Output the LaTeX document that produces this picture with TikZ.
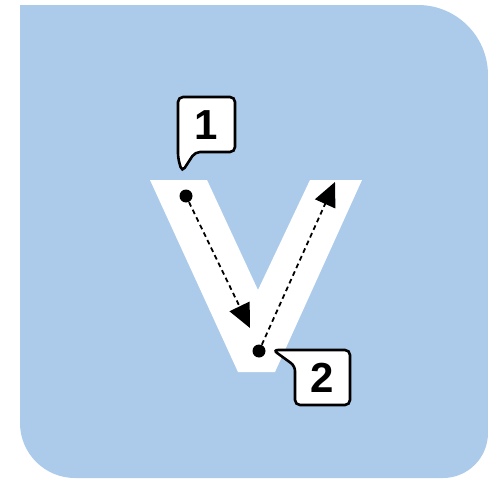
\documentclass[tikz,border=0pt]{standalone}
\usepackage{fontspec}
\usepackage{xcolor}
\newfontfamily\tagfont{Liberation Sans}
\definecolor{tileblue}{RGB}{172,203,235}
\usetikzlibrary{%
  arrows.meta,
  positioning,calc
}
\tikzset{
dot/.style = {circle, fill=black, inner sep=0pt, minimum size=6.5pt},
flow/.style = {line width=0.9pt, dash pattern=on 2.4pt off 1.8pt,
               -{Triangle[length=12pt,width=11pt]}},
tagbox/.style = {draw=black, fill=white, line width=1.3pt, rounded corners=2.5pt},
tagtext/.style = {font=\tagfont\bfseries\fontsize{21}{21}\selectfont, inner sep=0pt}
}

\begin{document}
\begin{tikzpicture}[x=0.5pt,y=-0.5pt]
  \useasboundingbox (0,0) rectangle (488,482);
  % tile
  \fill[tileblue] (20,5) -- (418,5) arc[start angle=-90, end angle=0, radius=70]
    -- (488,433) arc[start angle=0, end angle=90, radius=45]
    -- (75,478) arc[start angle=90, end angle=180, radius=55] -- cycle;
  % letter V
  \fill[white] (150,180) -- (207,180) -- (258,290) -- (310,180) -- (362,180)
    -- (275,372) -- (238,372) -- cycle;
  % stroke points
  \foreach \n/\p in {1/{(186,196)},2/{(259,351)}}{
    \node[dot] (p\n) at \p {};
  }
  \coordinate (t1) at (250,328);
  \coordinate (t2) at (335,182);
  \draw[flow] (p1) -- (t1);
  \draw[flow] (p2) -- (t2);
  % tags
  \draw[tagbox] (182,172) -- (178,158) -- (178,97) -- (235,97) -- (235,152)
    -- (195,152) -- cycle;
  \node[tagtext] (n1) at (206.5,125) {1};
  \draw[tagbox] (273,350) -- (350,350) -- (350,405) -- (295,405) -- (295,366)
    -- cycle;
  \node[tagtext] (n2) at (322.5,378) {2};
\end{tikzpicture}
\end{document}
